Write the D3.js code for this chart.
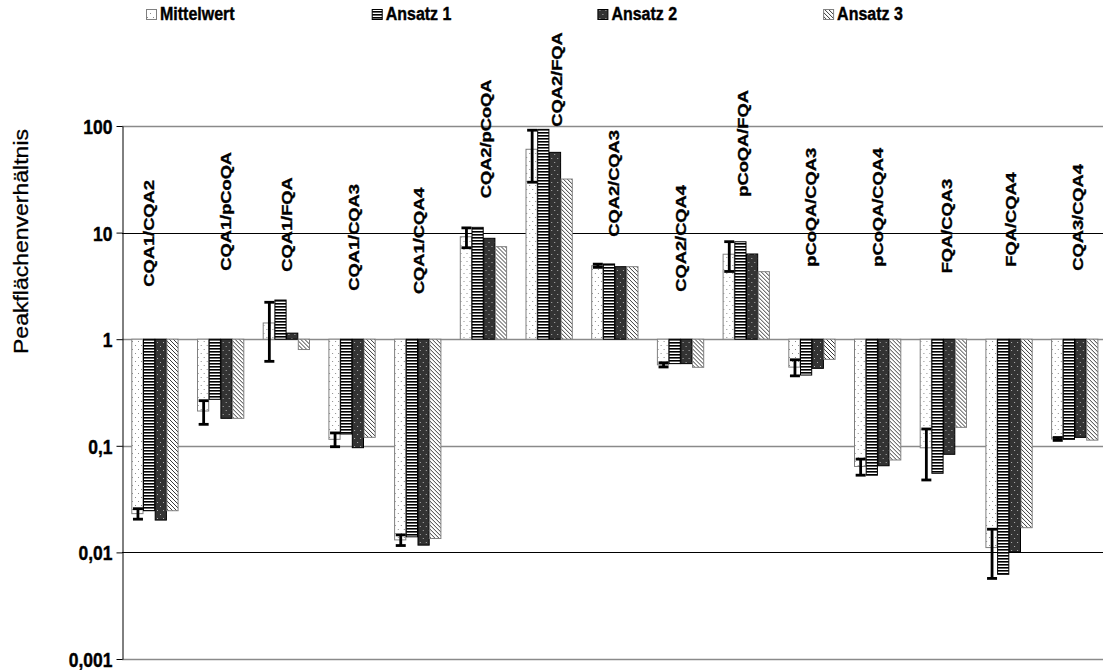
<!DOCTYPE html>
<html>
<head>
<meta charset="utf-8">
<script src="https://cdn.jsdelivr.net/npm/d3@7"></script>
<style>
  html, body { margin: 0; padding: 0; background: #fff; }
  svg { display: block; font-family: "Liberation Sans", Arial, sans-serif; }
</style>
</head>
<body>
<svg id="chart" width="1103" height="670"></svg>
<script>
// ---- data -------------------------------------------------------------
const categories = [
  "CQA1/CQA2", "CQA1/pCoQA", "CQA1/FQA", "CQA1/CQA3", "CQA1/CQA4",
  "CQA2/pCoQA", "CQA2/FQA", "CQA2/CQA3", "CQA2/CQA4", "pCoQA/FQA",
  "pCoQA/CQA3", "pCoQA/CQA4", "FQA/CQA3", "FQA/CQA4", "CQA3/CQA4"
];
const seriesNames = ["Mittelwert", "Ansatz 1", "Ansatz 2", "Ansatz 3"];

const mittelwert = [0.0231, 0.212, 1.42, 0.115, 0.0131, 9.14, 60.5, 4.89, 0.575, 6.27, 0.547, 0.064, 0.0958, 0.0111, 0.116];
const ansatz1    = [0.0246, 0.273, 2.33, 0.129, 0.0140, 11.2, 93.0, 5.08, 0.590, 8.20, 0.461, 0.053, 0.0552, 0.00623, 0.115];
const ansatz2    = [0.0201, 0.181, 1.14, 0.096, 0.0117, 8.84, 56.6, 4.79, 0.590, 6.30, 0.533, 0.065, 0.0832, 0.01015, 0.120];
const ansatz3    = [0.0246, 0.181, 0.80, 0.120, 0.0135, 7.38, 31.8, 4.79, 0.545, 4.30, 0.647, 0.0736, 0.149, 0.01705, 0.113];
// standard deviation of the three runs, drawn as error bars on the mean
const stdAbw     = [0.0026, 0.053, 0.80, 0.017, 0.0015, 1.93, 30.8, 0.17, 0.026, 1.95, 0.094, 0.011, 0.048, 0.0054, 0.0036];

const yTickValues = [0.001, 0.01, 0.1, 1, 10, 100];
const yTickLabels = ["0,001", "0,01", "0,1", "1", "10", "100"];

// where each rotated category name begins, in ratio units
const labelAnchor = [3.11, 4.39, 4.30, 2.85, 2.65, 21.0, 98.5, 9.15, 2.79, 21.7, 4.79, 4.79, 4.15, 4.79, 4.39];

// ---- layout -----------------------------------------------------------
const W = 1103, H = 670;
const plot = { left: 122, right: 1107.5, top: 126, bottom: 659 };
const groupInset = 9.3, groupWidth = 46.8;
const labelNudge = [-0.7, 10.8, 6.2, 7.2, 6.5, 8, 13.1, 4.4, 5.4, 1.9, 4.5, 5.5, 8.6, 6.9, 8.8];
const gridStroke = ["#8a8a8a", "#000", "#8a8a8a", "#8a8a8a", "#000", "#8a8a8a"];
const stretch = 1.18;   // glyphs are drawn taller than wide
const heavy = 0.35;     // extra outline on the bold text
const tickFont = 17.5;

const seriesValues = [mittelwert, ansatz1, ansatz2, ansatz3];

const svg = d3.select("#chart");
const defs = svg.append("defs");

// fill patterns
function pattern(id, w, h, build) {
  const p = defs.append("pattern").attr("id", id)
    .attr("patternUnits", "userSpaceOnUse").attr("width", w).attr("height", h);
  build(p);
}
pattern("pMittel", 6, 8, p => {
  p.append("rect").attr("width", 6).attr("height", 8).attr("fill", "#fff");
  p.append("rect").attr("x", 1).attr("y", 1).attr("width", 1).attr("height", 1).attr("fill", "#8c8c8c");
  p.append("rect").attr("x", 4).attr("y", 5).attr("width", 1).attr("height", 1).attr("fill", "#8c8c8c");
});
pattern("pAnsatz1", 6, 3, p => {
  p.append("rect").attr("width", 6).attr("height", 3).attr("fill", "#fff");
  p.append("rect").attr("y", 0).attr("width", 6).attr("height", 1.6).attr("fill", "#000");
});
pattern("pAnsatz2", 6, 8, p => {
  p.append("rect").attr("width", 6).attr("height", 8).attr("fill", "#333");
  p.append("rect").attr("x", 2).attr("y", 2).attr("width", 1).attr("height", 1).attr("fill", "#b0b0b0");
  p.append("rect").attr("x", 5).attr("y", 6).attr("width", 1).attr("height", 1).attr("fill", "#b0b0b0");
});
pattern("pAnsatz3", 4, 4, p => {
  p.append("rect").attr("width", 4).attr("height", 4).attr("fill", "#fff");
  p.append("path").attr("d", "M-1,-1L5,5M-1,3L1,5M3,-1L5,1")
    .attr("stroke", "#222").attr("stroke-width", 0.9);
});

const seriesStyle = [
  { fill: "url(#pMittel)",  stroke: "#808080" },
  { fill: "url(#pAnsatz1)", stroke: "#000" },
  { fill: "url(#pAnsatz2)", stroke: "#000" },
  { fill: "url(#pAnsatz3)", stroke: "#808080" }
];

// ---- scales -----------------------------------------------------------
const x0 = d3.scaleBand().domain(categories).range([plot.left, plot.right]).padding(0);
const x1 = d3.scaleBand().domain(seriesNames).range([groupInset, groupInset + groupWidth]).padding(0);
const y = d3.scaleLog().domain([0.001, 100]).range([plot.bottom, plot.top]);

// ---- gridlines --------------------------------------------------------
svg.append("g").selectAll("line").data(yTickValues).join("line")
  .attr("x1", plot.left).attr("x2", W)
  .attr("y1", d => Math.round(y(d)) + 0.5).attr("y2", d => Math.round(y(d)) + 0.5)
  .attr("stroke", (d, i) => gridStroke[i])
  .attr("stroke-width", (d, i) => gridStroke[i] === "#000" ? 1 : 1.3);

// ---- bars (drawn from the value 1 baseline) ----------------------------
const base = y(1);
const groups = svg.append("g").selectAll("g").data(categories).join("g")
  .attr("transform", d => `translate(${x0(d)},0)`);

groups.selectAll("rect").data((c, ci) => seriesNames.map((s, si) => ({ s, si, v: seriesValues[si][ci] })))
  .join("rect")
  .attr("x", d => x1(d.s) + 0.5)
  .attr("width", x1.bandwidth() - 0.5)
  .attr("y", d => Math.min(y(d.v), base))
  .attr("height", d => Math.abs(base - y(d.v)))
  .attr("fill", d => seriesStyle[d.si].fill)
  .attr("stroke", d => seriesStyle[d.si].stroke)
  .attr("stroke-width", 1);

// ---- error bars on the mean --------------------------------------------
const capW = 10;
const errG = svg.append("g").attr("stroke", "#000").attr("fill", "none");
categories.forEach((c, i) => {
  const cx = x0(c) + x1("Mittelwert") + x1.bandwidth() / 2 + 0.8;
  const hi = y(mittelwert[i] + stdAbw[i]);
  const lo = y(mittelwert[i] - stdAbw[i]);
  errG.append("line").attr("x1", cx).attr("x2", cx).attr("y1", hi).attr("y2", lo).attr("stroke-width", 2.8);
  errG.append("line").attr("x1", cx - capW / 2).attr("x2", cx + capW / 2).attr("y1", hi).attr("y2", hi).attr("stroke-width", 2.8);
  errG.append("line").attr("x1", cx - capW / 2).attr("x2", cx + capW / 2).attr("y1", lo).attr("y2", lo).attr("stroke-width", 2.8);
});

// ---- y axis ------------------------------------------------------------
const yAxis = d3.axisLeft(y)
  .tickValues(yTickValues)
  .tickFormat((d, i) => yTickLabels[i])
  .tickSizeInner(6).tickSizeOuter(0).tickPadding(4);
const ag = svg.append("g").attr("transform", `translate(${plot.left + 0.5},0)`).call(yAxis);
ag.select(".domain").attr("stroke", "#000").attr("stroke-width", 1);
ag.selectAll(".tick line").attr("stroke", "#000");
ag.selectAll(".tick text")
  .attr("font-family", '"Liberation Sans", Arial, sans-serif')
  .attr("font-size", tickFont).attr("font-weight", "bold").attr("fill", "#000")
  .attr("stroke", "#000").attr("stroke-width", heavy)
  .attr("dy", null).attr("y", 0)
  .attr("transform", `translate(0,${0.36 * tickFont * stretch}) scale(1,${stretch})`);

svg.append("text")
  .attr("transform", `translate(28,241.5) scale(1,${stretch}) rotate(-90)`)
  .attr("text-anchor", "middle")
  .attr("font-size", 19.5)
  .attr("fill", "#000").attr("stroke", "#000").attr("stroke-width", 0.3)
  .text("Peakflächenverhältnis");

// ---- category names ----------------------------------------------------
svg.append("g").selectAll("text").data(categories).join("text")
  .attr("transform", (d, i) => `translate(${x0(d) + groupInset + groupWidth / 2 + labelNudge[i]},${y(labelAnchor[i])}) scale(1,${stretch}) rotate(-90)`)
  .attr("text-anchor", "start")
  .attr("font-size", 15.5).attr("font-weight", "bold").attr("fill", "#000")
  .attr("stroke", "#000").attr("stroke-width", heavy)
  .text(d => d);

// ---- legend ------------------------------------------------------------
const legend = svg.append("g").selectAll("g").data(seriesNames).join("g")
  .attr("transform", (d, i) => `translate(${146 + i * 225.7},8)`);
legend.append("rect")
  .attr("x", 0.5).attr("y", 1.5).attr("width", 10).attr("height", 10)
  .attr("fill", (d, i) => seriesStyle[i].fill)
  .attr("stroke", (d, i) => seriesStyle[i].stroke);
legend.append("text")
  .attr("transform", `translate(14,12) scale(1,${stretch})`)
  .attr("font-size", 16).attr("font-weight", "bold").attr("fill", "#000")
  .attr("stroke", "#000").attr("stroke-width", heavy)
  .text(d => d);
</script>
</body>
</html>
